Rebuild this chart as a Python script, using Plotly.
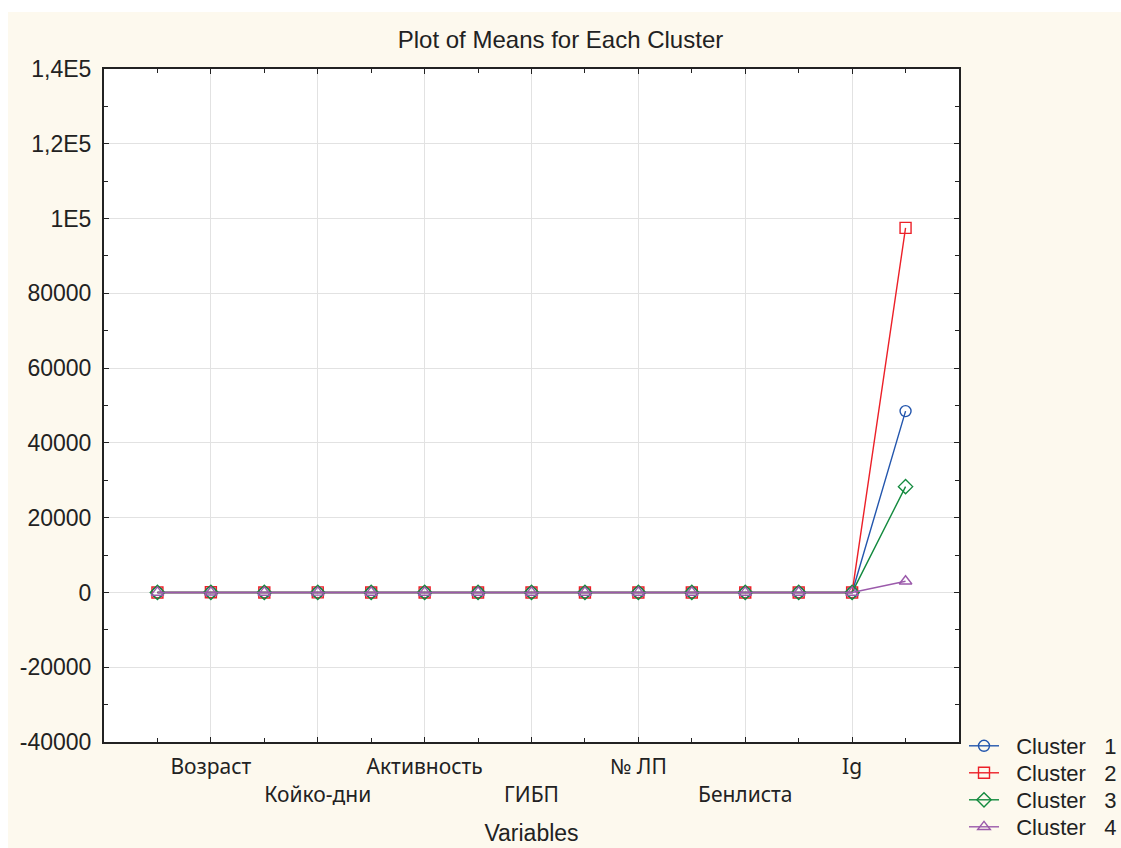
import plotly.graph_objects as go

# ---- data ----
variables = ["", "Возраст", "", "Койко-дни", "", "Активность", "", "ГИБП",
             "", "№ ЛП", "", "Бенлиста", "", "Ig", ""]
cluster_names = ["Cluster 1", "Cluster 2", "Cluster 3", "Cluster 4"]
cluster1 = [2, 46, 1, 15, 1, 4, 1, 1, 0, 2, 0, 0, 0, 1, 48500]
cluster2 = [2, 44, 1, 16, 1, 4, 1, 1, 0, 3, 0, 0, 0, 1, 97500]
cluster3 = [2, 47, 1, 14, 1, 3, 1, 1, 0, 2, 0, 0, 0, 1, 28300]
cluster4 = [2, 43, 1, 13, 1, 3, 1, 1, 0, 2, 0, 0, 0, 1, 3000]
y_tickvals = [-40000, -20000, 0, 20000, 40000, 60000, 80000, 100000, 120000, 140000]
y_ticktext = ["-40000", "-20000", "0", "20000", "40000", "60000", "80000", "1E5", "1,2E5", "1,4E5"]

series = [cluster1, cluster2, cluster3, cluster4]
colors = ["#2356ad", "#ec2028", "#138a3e", "#9b5aab"]
symbols = ["circle-open", "square-open", "diamond-open", "triangle-up-open"]
sizes = [11, 11, 11, 11]
legend_ids = ["legend", "legend2", "legend3", "legend4"]
legend_rows_px = [746, 773, 800, 827]

W, H = 1121, 848
x = list(range(1, len(variables) + 1))
tickvals = [i + 1 for i, v in enumerate(variables) if v]
labels = [v for v in variables if v]
ticktext = [lab if k % 2 == 0 else "<br>" + lab for k, lab in enumerate(labels)]

NB = "\u00a0"
fig = go.Figure()
for name, vals, c, s, sz, lid in zip(cluster_names, series, colors, symbols, sizes, legend_ids):
    label = NB + NB + name.replace(" ", NB * 3)
    fig.add_trace(go.Scatter(
        x=x, y=vals, name=label, mode="lines+markers", legend=lid,
        line=dict(color=c, width=1.4),
        marker=dict(symbol=s, size=sz, color=c, line=dict(color=c, width=1.4)),
    ))

legend_font = dict(family="Liberation Sans, Arial", size=22, color="#222")
legends = {}
for lid, row in zip(legend_ids, legend_rows_px):
    legends[lid] = dict(xref="container", yref="container",
                        x=964 / W, xanchor="left", y=1 - row / H, yanchor="middle",
                        bgcolor="rgba(0,0,0,0)", borderwidth=0, font=legend_font)

cream = "#fdf9ee"
fig.update_layout(
    width=W, height=H,
    margin=dict(l=104, r=162, t=69, b=106, autoexpand=False),
    paper_bgcolor=cream, plot_bgcolor="white",
    title=dict(text="Plot of Means for Each Cluster", x=0.5, xanchor="center",
               y=1 - 40 / H, yanchor="middle",
               font=dict(family="Liberation Sans, Arial", size=24, color="#222")),
    font=dict(family="Liberation Sans, Arial", size=22, color="#222"),
    showlegend=True,
    xaxis=dict(
        range=[0, 16], tickmode="array", tickvals=tickvals, ticktext=ticktext,
        tickangle=0, automargin=False,
        tickfont=dict(family="Noto Sans", size=21, color="#222"),
        ticks="inside", ticklen=5, tickcolor="#222", ticklabelstandoff=5,
        showgrid=True, gridcolor="#e2e2e2", gridwidth=1,
        showline=True, linecolor="#222", linewidth=2, mirror="ticks",
        minor=dict(dtick=1, tick0=0, ticks="inside", ticklen=4, tickcolor="#222", showgrid=False),
        zeroline=False,
        title=dict(text="Variables", font=dict(family="Liberation Sans, Arial", size=23, color="#222"),
                   standoff=18),
    ),
    yaxis=dict(
        range=[-40000, 140000], tickmode="array", tickvals=y_tickvals, ticktext=y_ticktext,
        automargin=False,
        tickfont=dict(family="Liberation Sans, Arial", size=23, color="#222"),
        ticks="inside", ticklen=5, tickcolor="#222", ticklabelstandoff=6,
        showgrid=True, gridcolor="#e2e2e2", gridwidth=1,
        showline=True, linecolor="#222", linewidth=2, mirror="ticks",
        minor=dict(dtick=10000, tick0=0, ticks="inside", ticklen=4, tickcolor="#222", showgrid=False),
        zeroline=False,
    ),
    shapes=[
        dict(type="rect", xref="paper", yref="paper",
             x0=-0.2, x1=(8 - 104) / 855, y0=-0.3, y1=1.3,
             fillcolor="white", line=dict(width=0), layer="below"),
        dict(type="rect", xref="paper", yref="paper",
             x0=-0.2, x1=1.3, y0=(742 - 12) / 673, y1=1.3,
             fillcolor="white", line=dict(width=0), layer="below"),
    ],
)
fig.update_layout(**legends)

fig.write_html(
    "out.html",
    config={"displayModeBar": False},
    post_script="document.body.style.margin='0';document.body.style.overflow='hidden';",
)
